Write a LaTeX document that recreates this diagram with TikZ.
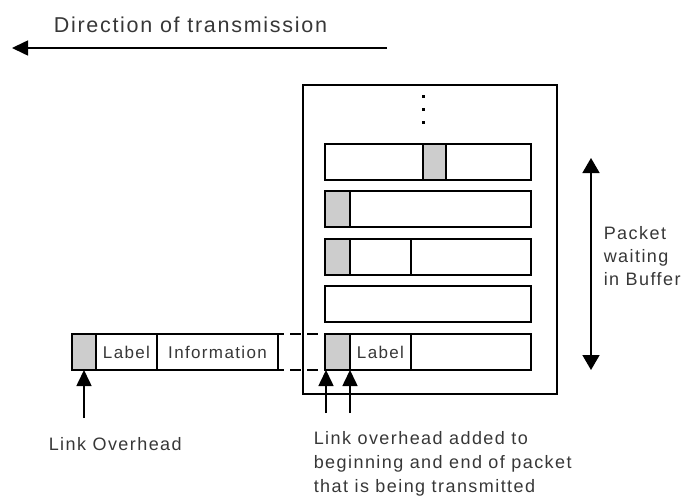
\documentclass[tikz,border=0pt]{standalone}
\usepackage{fontspec}
\setmainfont{Liberation Sans}
\newfontfamily\spaced[LetterSpace=8]{Liberation Sans}
\usetikzlibrary{arrows.meta, positioning}
\definecolor{inkgray}{RGB}{55, 55, 55}
\definecolor{stipple}{RGB}{205, 205, 205}

\begin{document}
\begin{tikzpicture}[x=1pt, y=-1pt, line width=1.6pt,
  rowbox/.style={draw, minimum width=206pt, minimum height=36pt, inner sep=0pt, outer sep=0pt},
  ovhbox/.style={draw, fill=stipple, minimum width=25pt, minimum height=36pt, inner sep=0pt, outer sep=0pt},
  fieldbox/.style={draw, minimum height=36pt, inner sep=0pt, outer sep=0pt, text=inkgray, font=\spaced\fontsize{17}{20}\selectfont},
  lbl/.style={inner sep=0pt, text=inkgray, align=left, font=\spaced\fontsize{18}{24}\selectfont},
  arr/.style={-{Triangle[length=16pt, width=15pt]}}]
\useasboundingbox (0,0) rectangle (696,500);

% direction of transmission
\coordinate (dirstart) at (387,48);
\coordinate (dirend) at (12,48);
\draw[arr] (dirstart) -- (dirend);
\node[lbl, font=\spaced\fontsize{21.5}{25}\selectfont, anchor=base west] (dirlabel) at (53,33) {Direction of transmission};

% buffer with waiting packets
\node[draw, minimum width=254pt, minimum height=309pt, inner sep=0pt, anchor=north west] (buffer) at (302,84) {};
\foreach \y in {97,110,123}
  \fill (421.5,\y-1.5) rectangle ++(3,3);
\foreach \i/\y in {1/162,2/209,3/257,4/304,5/352}
  \node[rowbox] (row\i) at (428,\y) {};

\node[ovhbox, minimum width=23pt] (ovh1) at (434.5,162) {};
\node[ovhbox] (ovh2) at (337.5,209) {};
\node[ovhbox] (ovh3) at (337.5,257) {};
\node[fieldbox, minimum width=61pt, right=0pt of ovh3] (mid3) {};
\node[ovhbox] (ovh5) at (337.5,352) {};
\node[fieldbox, minimum width=61pt, right=0pt of ovh5] (lab5) {Label};

% packet on the link
\node[ovhbox, minimum width=24pt] (lovh) at (84,352) {};
\node[fieldbox, minimum width=61pt, right=0pt of lovh] (llab) {Label};
\node[fieldbox, minimum width=121pt, right=0pt of llab] (linfo) {Information};

\draw[dash pattern=on 11pt off 6pt, dash phase=5pt] (linfo.north east) -- (ovh5.north west);
\draw[dash pattern=on 11pt off 6pt, dash phase=5pt] (linfo.south east) -- (ovh5.south west);

% overhead arrows
\coordinate (lfoot) at (84,418);
\draw[arr] (lfoot) -- (lovh.south);
\coordinate (foot1) at (326,413);
\coordinate (foot2) at (350,413);
\draw[arr] (foot1) -- (foot1 |- ovh5.south);
\draw[arr] (foot2) -- (foot2 |- ovh5.south);

% buffer extent
\coordinate (buftop) at (591,158);
\coordinate (bufbot) at (591,370);
\draw[{Triangle[length=15pt, width=17pt]}-{Triangle[length=15pt, width=17pt]}] (buftop) -- (bufbot);

\node[lbl, anchor=base west] (ovhlabel) at (48,450) {Link Overhead};
\node[lbl, font=\spaced\fontsize{18}{24}\selectfont, anchor=north west] (addlabel) at (313,431) {Link overhead added to\\beginning and end of packet\\that is being transmitted};
\node[lbl, font=\spaced\fontsize{18}{23}\selectfont, anchor=north west] (waitlabel) at (603,226) {Packet\\waiting\\in Buffer};

\end{tikzpicture}
\end{document}
